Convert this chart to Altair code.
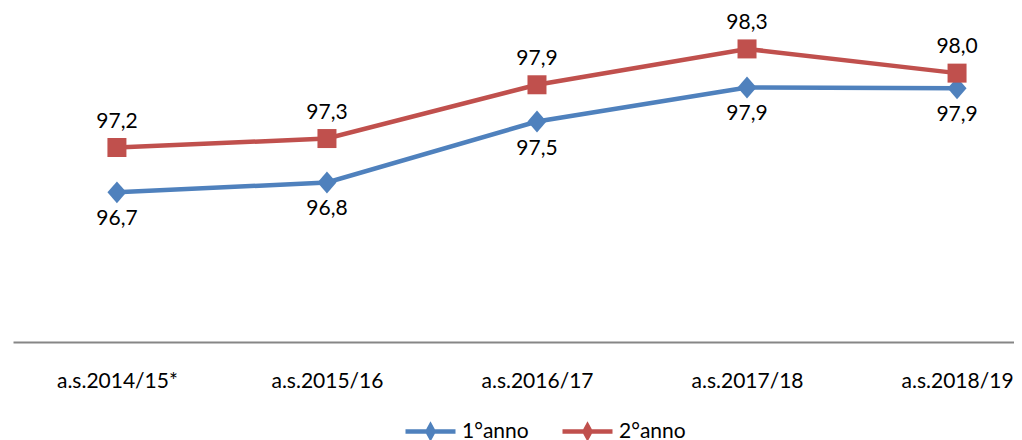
import altair as alt
import pandas as pd

categories = ["a.s.2014/15*", "a.s.2015/16", "a.s.2016/17", "a.s.2017/18", "a.s.2018/19"]
series_names = ["1°anno", "2°anno"]
anno1 = [96.7, 96.81, 97.49, 97.87, 97.86]
anno2 = [97.2, 97.3, 97.9, 98.3, 98.03]
colors = ["#4F81BD", "#C0504D"]

rows = []
for c, v in zip(categories, anno1):
    rows.append({"cat": c, "series": series_names[0], "value": v})
for c, v in zip(categories, anno2):
    rows.append({"cat": c, "series": series_names[1], "value": v})
df = pd.DataFrame(rows)

FONT = "Lato"

x = alt.X(
    "cat:N",
    sort=categories,
    scale=alt.Scale(type="point", padding=0.383, align=0.646),
    axis=alt.Axis(
        title=None, ticks=False, grid=False, labelAngle=0,
        domainColor="#868686", domainWidth=2,
        labelFont=FONT, labelFontSize=21, labelColor="#000000", labelPadding=28,
    ),
)
y = alt.Y("value:Q", scale=alt.Scale(domain=[95.03, 98.5], zero=False, nice=False), axis=None)

leg = alt.Legend(
    orient="none", legendX=390, legendY=373, direction="horizontal", title=None,
    symbolType="M-1,0L1,0M-0.12,0L0,-0.22L0.12,0L0,0.22Z",
    symbolSize=2500, symbolStrokeWidth=4.5,
    labelFont=FONT, labelFontSize=21, labelColor="#000000",
    labelOffset=4, columnPadding=24,
)
cscale = alt.Scale(domain=series_names, range=colors)

base = alt.Chart(df)

lines = base.mark_line(strokeWidth=4.5).encode(
    x=x, y=y, color=alt.Color("series:N", scale=cscale, legend=leg)
)

diamond_path = "M0,-1.15L1,0L0,1.15L-1,0Z"
pts1 = base.transform_filter(alt.datum.series == series_names[0]).mark_point(
    shape=diamond_path, size=361, filled=True, opacity=1
).encode(x=x, y=y, color=alt.Color("series:N", scale=cscale))
pts2 = base.transform_filter(alt.datum.series == series_names[1]).mark_point(
    shape="square", size=361, filled=True, opacity=1
).encode(x=x, y=y, color=alt.Color("series:N", scale=cscale))

lab_expr = "replace(format(datum.value, '.1f'), '.', ',')"
txt1 = base.transform_filter(alt.datum.series == series_names[0]).transform_calculate(
    label=lab_expr
).mark_text(font=FONT, fontSize=21, color="#000000", baseline="middle", dy=27).encode(
    x=x, y=y, text="label:N"
)
txt2 = base.transform_filter(alt.datum.series == series_names[1]).transform_calculate(
    label=lab_expr
).mark_text(font=FONT, fontSize=21, color="#000000", baseline="middle", dy=-26).encode(
    x=x, y=y, text="label:N"
)

chart = alt.layer(lines, pts1, pts2, txt1, txt2).properties(
    width=1001, height=311,
    autosize=alt.AutoSizeParams(type="none"),
    padding={"left": 5, "top": 23, "right": 0, "bottom": 98},
    background="white",
).configure_view(stroke=None)

chart.save("out.html", embed_options={"renderer": "svg", "actions": False})
